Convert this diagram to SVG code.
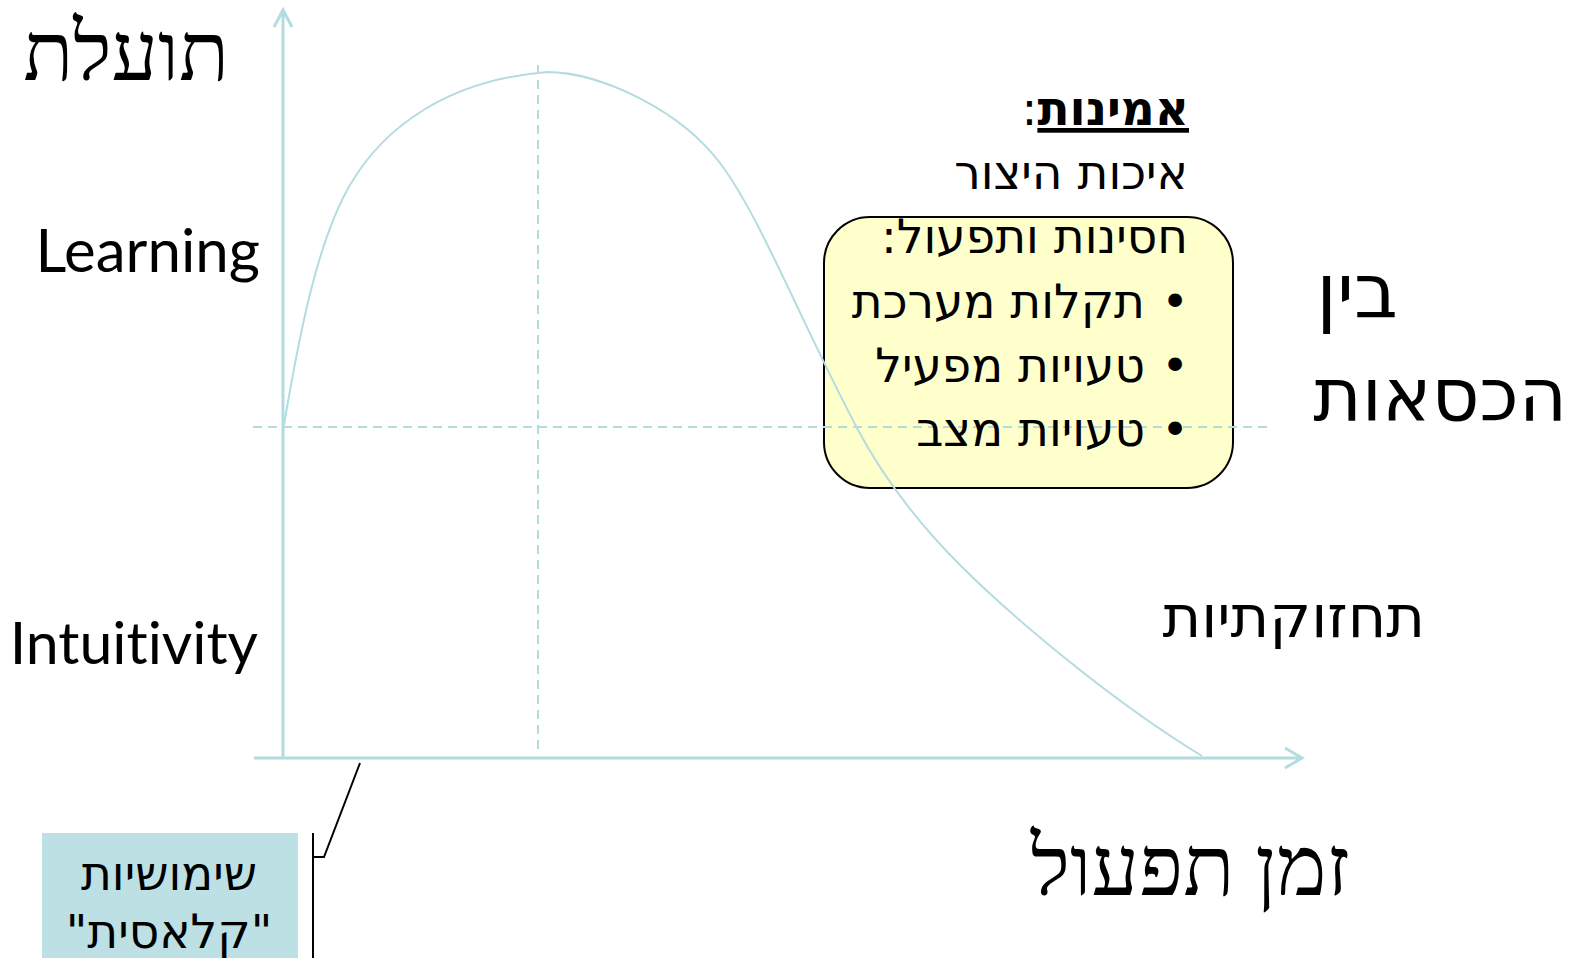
<svg xmlns="http://www.w3.org/2000/svg" width="1584" height="958" viewBox="0 0 1584 958">
<style>
.axis{fill:none;stroke:#B4DCE0;stroke-width:3;stroke-linecap:butt}
.curve{fill:none;stroke:#B4DCE0;stroke-width:2}
.dash{fill:none;stroke:#B4DCE0;stroke-width:2;stroke-dasharray:9 6}
.he{font-family:"DejaVu Sans",sans-serif;fill:#000;direction:rtl;unicode-bidi:embed}
.heserif{font-family:"Liberation Serif","DejaVu Serif",serif;fill:#000;direction:rtl;unicode-bidi:embed}
.en{font-family:Lato,"Open Sans",sans-serif;font-size:60px;fill:#000;text-anchor:end;font-variant-ligatures:none}
.box{font-size:47px}
.line{fill:none;stroke:#000;stroke-width:2}
</style>
<rect width="1584" height="958" fill="#fff"/>
<g id="quality-box">
<rect x="824" y="217" width="409" height="271" rx="46" ry="46" fill="#FFFFCC" stroke="#000" stroke-width="2"/>
</g>
<g id="usability-box">
<rect x="42" y="833" width="256" height="130" fill="#BCE0E3"/>
</g>
<g id="connectors">
<path class="axis" d="M283,758 L283,10 M274,27 L283,10 L292,27"/>
<path class="axis" d="M254,758 L1302,758 M1285,748 L1302,758 L1285,768"/>
<path class="dash" d="M538,65 L538,752"/>
<path class="dash" d="M253,427 L1271,427"/>
<path class="curve" d="M284,425 C300,330 318,240 350,185 C385,125 450,80 547,72 C600,72 680,110 720,163 C760,216 800,320 857,428 C885,481 920,525 960,565 C1010,615 1110,700 1202,756"/>
<path class="line" d="M313,833 L313,958 M313,857 L324,857 L360,763"/>
</g>
<g id="y-axis-title">
<text class="heserif" x="229" y="80" font-size="82" text-anchor="start">תועלת</text>
</g>
<g id="x-axis-title">
<text class="heserif" x="1350" y="895" font-size="84" text-anchor="start">זמן תפעול</text>
</g>
<g id="learning-label"><text class="en" x="260" y="272">Learning</text></g>
<g id="intuitivity-label"><text class="en" x="258" y="664" style="font-size:59px">Intuitivity</text></g>
<g id="between-chairs">
<text class="he" x="1398" y="318" font-size="76" text-anchor="start">בין</text>
<text class="he" x="1567" y="420" font-size="74" text-anchor="start">הכסאות</text>
</g>
<g id="maintainability">
<text class="he" x="1425" y="637" font-size="59" text-anchor="start">תחזוקתיות</text>
</g>
<g id="reliability-text">
<text class="he box" x="1189" y="125" text-anchor="start"><tspan font-weight="bold" text-decoration="underline">אמינות</tspan>:</text>
<text class="he box" x="1188" y="189" text-anchor="start">איכות היצור</text>
<text class="he box" x="1188" y="253" text-anchor="start">חסינות ותפעול:</text>
<text class="he box" x="1175" y="318" text-anchor="middle">•</text>
<text class="he box" x="1145" y="318" text-anchor="start">תקלות מערכת</text>
<text class="he box" x="1175" y="382" text-anchor="middle">•</text>
<text class="he box" x="1145" y="382" text-anchor="start">טעויות מפעיל</text>
<text class="he box" x="1175" y="446" text-anchor="middle">•</text>
<text class="he box" x="1145" y="446" text-anchor="start">טעויות מצב</text>
</g>
<g id="usability-text">
<text class="he box" x="169" y="890" text-anchor="middle">שימושיות</text>
<text class="he box" x="169" y="948" text-anchor="middle">"קלאסית"</text>
</g>
</svg>
